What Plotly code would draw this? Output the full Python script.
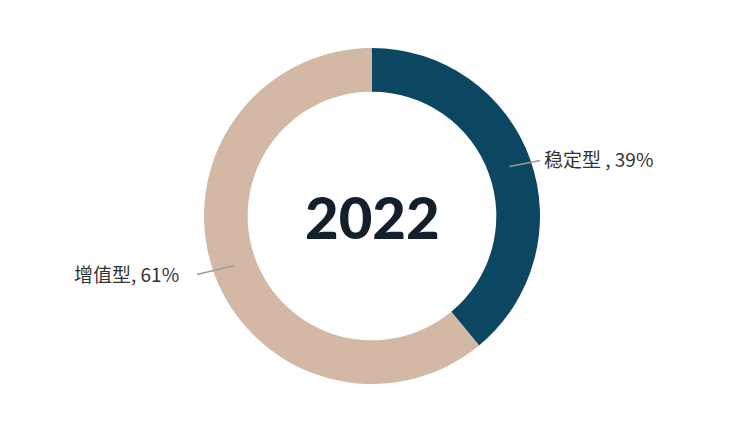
import math
import plotly.graph_objects as go

labels = ["稳定型", "增值型"]
values = [39, 61]
label_text = ["稳定型 , 39%", "增值型, 61%"]
colors = ["#0B4761", "#D3B8A6"]
center_title = "2022"

W, H = 744, 432
MT, MB = 48, 48
R = (H - MT - MB) / 2.0
cx, cy = W / 2.0, MT + R

def to_paper(px, py):
    return px / W, (H - MB - py) / (H - MT - MB)

fig = go.Figure(go.Pie(
    labels=labels, values=values, hole=0.74, sort=False,
    direction="clockwise", rotation=0,
    marker=dict(colors=colors, line=dict(width=0)),
    textinfo="none", hoverinfo="label+percent", showlegend=False,
))

total = sum(values)
cum = 0
shapes = []
annotations = []
for i, v in enumerate(values):
    mid = (cum + v / 2) / total * 2 * math.pi
    cum += v
    rm = R * 0.87
    sx = cx + rm * math.sin(mid)
    sy = cy - rm * math.cos(mid)
    right = math.sin(mid) >= 0
    ex = cx + R * (1 if right else -1) + (0 if right else -7)
    ey = sy + (-6 if right else 9)
    x0, y0 = to_paper(sx, sy)
    x1, y1 = to_paper(ex, ey)
    shapes.append(dict(type="line", xref="paper", yref="paper", x0=x0, y0=y0, x1=x1, y1=y1,
                       line=dict(color="#9a9a9a", width=1.5)))
    tx, ty = to_paper(ex + (2 if right else -16), ey + (-2 if right else -1))
    annotations.append(dict(x=tx, y=ty, xref="paper", yref="paper", text=label_text[i],
                            showarrow=False, xanchor="left" if right else "right", yanchor="middle",
                            font=dict(family="Noto Sans CJK SC", size=19, color="#333333")))

annotations.append(dict(x=0.5, y=0.5, xref="paper", yref="paper", text=center_title, showarrow=False,
                        font=dict(family="Lato", size=58, color="#141F2C", weight=900)))

fig.update_layout(
    width=W, height=H,
    margin=dict(l=0, r=0, t=MT, b=MB, autoexpand=False),
    paper_bgcolor="white", plot_bgcolor="white",
    shapes=shapes, annotations=annotations,
)
fig.write_html("out.html", config={"displayModeBar": False})

with open("out.html", "r", encoding="utf-8") as f:
    html = f.read()
html = html.replace("<head>", "<head><style>html,body{margin:0;padding:0;}</style>", 1)
with open("out.html", "w", encoding="utf-8") as f:
    f.write(html)
